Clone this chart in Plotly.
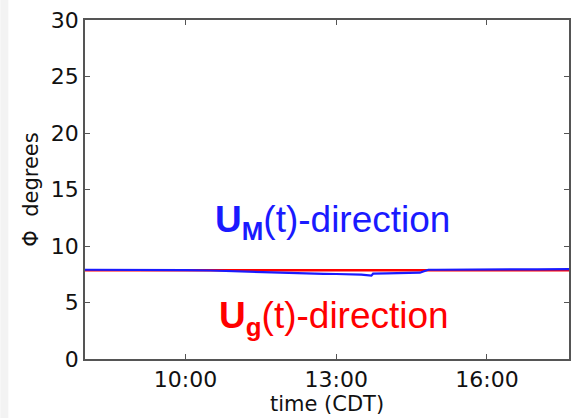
import plotly.graph_objects as go

# Blue series: U_M(t) direction (degrees)
blue_times = ["08:00", "08:30", "09:00", "09:30", "10:00", "10:30", "11:00", "11:20", "11:40",
              "12:00", "12:15", "12:30", "12:45", "13:00", "13:15", "13:30", "13:42", "13:44",
              "14:00", "14:15", "14:30", "14:40", "14:44", "14:47", "14:50", "15:00", "15:20",
              "15:40", "16:00", "16:20", "16:40", "17:00", "17:20", "17:40"]
blue_vals = [7.9, 7.9, 7.9, 7.89, 7.87, 7.83, 7.76, 7.7, 7.64,
             7.6, 7.57, 7.55, 7.53, 7.52, 7.5, 7.46, 7.38, 7.55,
             7.58, 7.6, 7.62, 7.64, 7.75, 7.82, 7.9, 7.9, 7.92,
             7.91, 7.93, 7.92, 7.94, 7.93, 7.95, 7.95]

# Red series: U_g(t) direction (degrees)
red_times = ["08:00", "17:40"]
red_vals = [7.85, 7.85]

x_ticks = ["10:00", "13:00", "16:00"]
y_ticks = [0, 5, 10, 15, 20, 25, 30]

def dt(t):
    return "2000-01-01 " + t

fig = go.Figure()
fig.add_trace(go.Scatter(x=[dt(t) for t in red_times], y=red_vals, mode="lines",
                         line=dict(color="#ff0000", width=2.5), showlegend=False))
fig.add_trace(go.Scatter(x=[dt(t) for t in blue_times], y=blue_vals, mode="lines",
                         line=dict(color="#1a1aff", width=2.2), showlegend=False))

tickfont = dict(family="DejaVu Sans", size=22, color="#111")
fig.update_layout(
    width=572, height=418,
    margin=dict(l=85, r=1, t=20, b=59),
    paper_bgcolor="white", plot_bgcolor="white",
    font=dict(family="DejaVu Sans", size=22, color="#111"),
    xaxis=dict(
        type="date",
        range=[dt("08:00"), dt("17:38")],
        tickvals=[dt(t) for t in x_ticks],
        ticktext=x_ticks,
        ticks="inside", ticklen=5, tickcolor="#555",
        showline=True, linecolor="#555", linewidth=1.5, mirror="ticks",
        showgrid=False, zeroline=False,
        tickfont=tickfont,
        title=dict(text="time (CDT)", font=dict(family="DejaVu Sans", size=21), standoff=4),
    ),
    yaxis=dict(
        range=[0, 30],
        tickvals=y_ticks,
        ticks="inside", ticklen=5, tickcolor="#555",
        showline=True, linecolor="#555", linewidth=1.5, mirror="ticks",
        showgrid=False, zeroline=False,
        tickfont=tickfont,
        title=dict(text="\u03a6  degrees", font=dict(family="DejaVu Sans", size=21), standoff=6),
    ),
    shapes=[dict(type="rect", xref="paper", yref="paper",
                 x0=-85/486, x1=-77/486, y0=-59/339, y1=1+20/339,
                 fillcolor="#f3f3f3", line=dict(width=0), layer="below")],
    annotations=[
        dict(x=dt("12:55"), y=12.1, xref="x", yref="y",
             text="<b>U<sub>M</sub></b>(t)-direction", showarrow=False,
             font=dict(family="Liberation Sans", size=37, color="#1a1aff")),
        dict(x=dt("12:57"), y=3.6, xref="x", yref="y",
             text="<b>U<sub>g</sub></b>(t)-direction", showarrow=False,
             font=dict(family="Liberation Sans", size=37, color="#ff0000")),
    ],
)

fig.write_html("out.html")
